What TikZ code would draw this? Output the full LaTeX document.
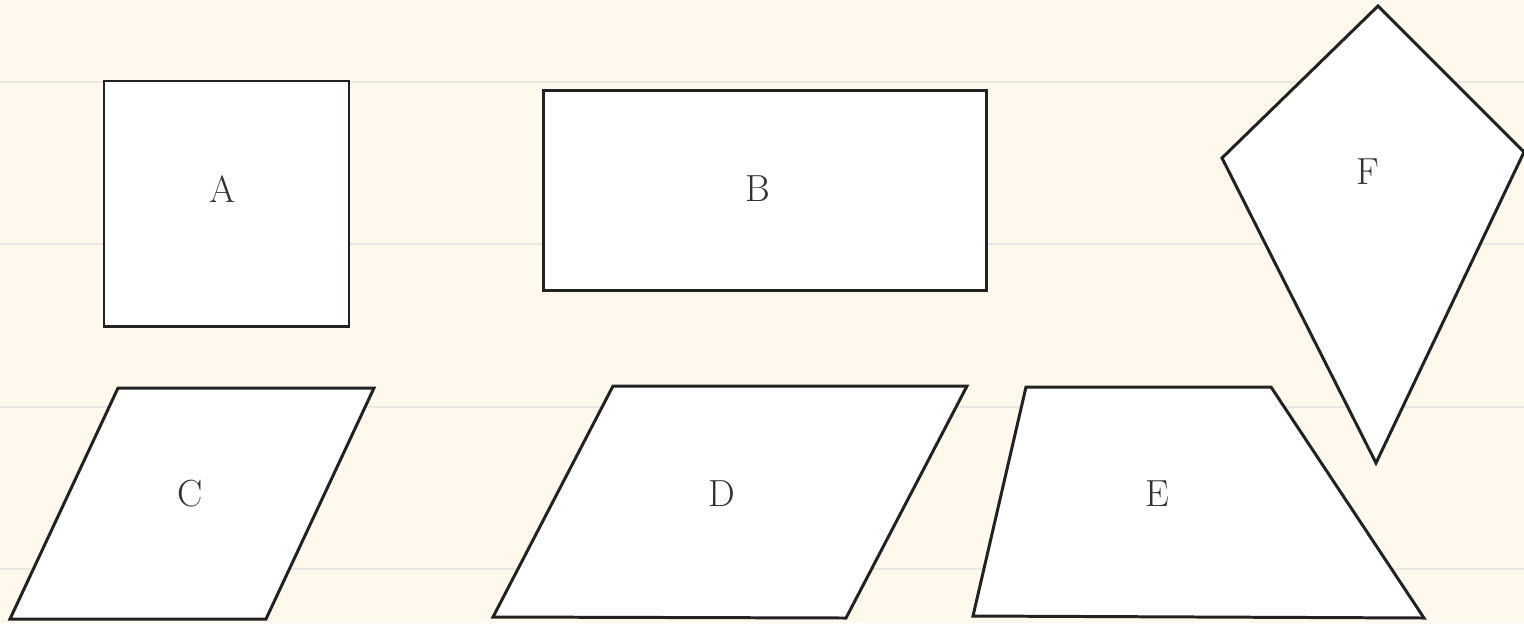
\documentclass[tikz,border=0pt]{standalone}
\usetikzlibrary{calc}
\definecolor{bgcream}{HTML}{FEF9EC}
\definecolor{ruleline}{HTML}{E9E7E1}
\definecolor{edgecol}{HTML}{222222}
\definecolor{textcol}{HTML}{333333}
\tikzset{
  shapeedge/.style={draw=edgecol, fill=white, line width=1.7pt, line join=miter},
  ruling/.style={draw=ruleline, line width=1.6pt},
  shapelabel/.style={text=textcol, font=\fontsize{21.5}{26}\selectfont, inner sep=0pt}
}
\begin{document}
\begin{tikzpicture}[x=0.02cm, y=-0.02cm]
\useasboundingbox (0,0) rectangle (1524,623);
\fill[bgcream] (0,0) rectangle (1524,623);
\begin{scope}
\clip (0,0) rectangle (1524,623);
\foreach \yy in {82,244,407,569} \draw[ruling] (0,\yy) -- (1524,\yy);
% A
\draw[shapeedge] (104,81) rectangle (349,326);
\node[shapelabel] (la) at (223,189) {A};
% B
\draw[shapeedge] (543,90) rectangle (986,290);
\node[shapelabel] (lb) at (758,189) {B};
% C
\draw[shapeedge] (118,388) -- (374,388) -- (266,619) -- (10,619) -- cycle;
\node[shapelabel] (lc) at (190,494) {C};
% D
\draw[shapeedge] (613,386) -- (967,386) -- (846,618) -- (493,617) -- cycle;
\node[shapelabel] (ld) at (722,494) {D};
% E
\draw[shapeedge] (1026,387) -- (1271,387) -- (1424,618) -- (973,616) -- cycle;
\node[shapelabel] (le) at (1157,494) {E};
% F
\draw[shapeedge] (1378,6) -- (1524,152) -- (1376,463) -- (1222,158) -- cycle;
\node[shapelabel] (lf) at (1368,172) {F};
\end{scope}
\end{tikzpicture}
\end{document}
